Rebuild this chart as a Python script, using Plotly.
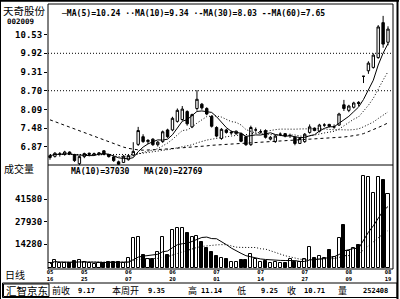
import plotly.graph_objects as go
import pandas as pd

W, H = 400, 299

# ---------------- data ----------------
stock_name = "天奇股份"
stock_code = "002009"

open_ = [6.52, 6.56, 6.62, 6.62, 6.70, 6.62, 6.32, 6.55, 6.62, 6.64,
         6.63, 6.74, 6.62, 6.54, 6.38, 6.36, 6.45, 6.60, 6.95, 7.20,
         7.04, 7.12, 6.94, 7.04, 7.42, 7.42, 7.70, 7.76, 8.02, 7.52,
         8.12, 8.26, 8.12, 7.86, 7.50, 7.14, 7.42, 7.32, 7.30, 7.30,
         7.20, 6.94, 7.42, 7.36, 7.40, 7.12, 7.04, 7.28, 7.30, 7.24,
         7.18, 6.98, 7.04, 7.34, 7.48, 7.38, 7.58, 7.60, 7.52, 7.58,
         8.24, 8.06, 8.16, 8.32, 9.17, 9.35, 9.46, 9.78, 10.92, 10.28]
high = [6.62, 6.70, 6.70, 6.74, 6.72, 6.64, 6.58, 6.68, 6.68, 6.68,
        6.70, 6.76, 6.64, 6.56, 6.42, 6.60, 6.62, 7.02, 7.52, 7.28,
        7.12, 7.15, 7.06, 7.40, 7.46, 7.85, 8.12, 8.20, 8.06, 7.95,
        8.72, 8.30, 8.16, 7.90, 7.54, 7.48, 7.46, 7.40, 7.40, 7.34,
        7.22, 7.56, 7.50, 7.44, 7.44, 7.22, 7.26, 7.34, 7.32, 7.30,
        7.20, 7.18, 7.32, 7.60, 7.50, 7.62, 7.64, 7.62, 7.60, 7.98,
        8.40, 8.24, 8.34, 8.36, 9.17, 9.66, 9.92, 10.84, 11.14, 10.80]
low = [6.45, 6.52, 6.55, 6.58, 6.60, 6.38, 6.25, 6.50, 6.56, 6.58,
       6.58, 6.60, 6.52, 6.38, 6.26, 6.34, 6.42, 6.56, 6.90, 7.00,
       6.96, 6.90, 6.88, 7.00, 7.16, 7.38, 7.66, 7.72, 7.56, 7.48,
       8.05, 8.08, 7.90, 7.50, 7.18, 7.10, 7.30, 7.26, 7.26, 7.02,
       6.90, 6.90, 7.36, 7.30, 7.14, 7.08, 7.00, 7.22, 7.18, 7.16,
       6.92, 6.96, 7.00, 7.30, 7.38, 7.34, 7.52, 7.50, 7.46, 7.55,
       8.04, 8.00, 8.12, 8.20, 8.95, 9.25, 9.42, 9.74, 10.10, 10.18]
close = [6.58, 6.66, 6.64, 6.70, 6.64, 6.42, 6.55, 6.65, 6.66, 6.64,
         6.67, 6.62, 6.55, 6.42, 6.30, 6.56, 6.58, 6.72, 7.40, 7.04,
         7.08, 6.94, 7.02, 7.36, 7.20, 7.80, 8.06, 8.10, 7.62, 7.92,
         8.42, 8.14, 7.94, 7.54, 7.22, 7.44, 7.34, 7.34, 7.38, 7.05,
         6.94, 7.50, 7.42, 7.36, 7.18, 7.18, 7.22, 7.28, 7.22, 7.24,
         6.98, 7.14, 7.28, 7.52, 7.40, 7.58, 7.58, 7.54, 7.52, 7.94,
         8.12, 8.20, 8.30, 8.28, 9.17, 9.60, 9.86, 10.78, 10.22, 10.71]
volume = [2500, 4800, 2800, 3000, 2600, 3800, 4500, 3600, 2800, 2200,
          2600, 3000, 3200, 3600, 3400, 3000, 6000, 18200, 18500, 7900,
          5000, 5500, 9700, 18800, 7900, 23000, 24300, 24300, 21200, 18800,
          19000, 15800, 12000, 9700, 7000, 6000, 5500, 3500, 3500, 4500,
          4800, 8500, 5500, 3500, 4000, 3000, 3500, 2800, 3000, 5500,
          3200, 3500, 5000, 12700, 6000, 7000, 6000, 10900, 6500, 18200,
          26000, 10300, 12100, 14000, 55500, 55000, 45000, 55000, 53000, 44400]
# MA30 before 30 closes are available in the window
ma30_head = [6.62, 6.62, 6.62, 6.62, 6.62, 6.62, 6.61, 6.61, 6.61, 6.61,
             6.61, 6.61, 6.61, 6.60, 6.60, 6.60, 6.61, 6.62, 6.64, 6.66,
             6.68, 6.70, 6.72, 6.75, 6.77, 6.80, 6.84, 6.87, 6.90]
# MA60
ma60 = [7.75, 7.69, 7.63, 7.57, 7.51, 7.45, 7.39, 7.33, 7.27, 7.21,
        7.15, 7.09, 7.03, 6.97, 6.91, 6.86, 6.82, 6.79, 6.77, 6.76,
        6.76, 6.77, 6.78, 6.79, 6.80, 6.81, 6.82, 6.83, 6.84, 6.85,
        6.86, 6.88, 6.90, 6.92, 6.93, 6.94, 6.95, 6.96, 6.97, 6.98,
        6.99, 7.00, 7.01, 7.02, 7.03, 7.04, 7.05, 7.06, 7.06, 7.07,
        7.07, 7.08, 7.09, 7.10, 7.11, 7.12, 7.13, 7.14, 7.15, 7.17,
        7.19, 7.21, 7.23, 7.26, 7.30, 7.36, 7.43, 7.50, 7.57, 7.65]

price_ticks = [10.53, 9.92, 9.31, 8.70, 8.09, 7.48, 6.87]
grid_levels = [9.92, 8.70]
vol_ticks = [41580, 27930, 14280]
date_tick_idx = [0, 7, 16, 25, 34, 43, 52, 61, 69]
date_months = ["05", "05", "06", "06", "07", "07", "07", "08", "08"]
date_days = ["16", "25", "07", "20", "01", "14", "27", "09", "19"]
ma_labels = ["─MA(5)=10.24", "··MA(10)=9.34", "·-MA(30)=8.03", "--MA(60)=7.65"]
vol_ma_labels = ["MA(10)=37030", "MA(20)=22769"]
status_labels = ["前收", "本周开", "高", "低", "收", "量"]
status_values = ["9.17", "9.35", "11.14", "9.25", "10.71", "252408"]
software_name = "汇智京东"

# ---------------- derived ----------------
idx = list(range(len(close)))
cs = pd.Series(close)
ma5 = cs.rolling(5, min_periods=1).mean()
ma10 = cs.rolling(10, min_periods=1).mean()
ma30 = cs.rolling(30).mean()
ma30.iloc[:len(ma30_head)] = ma30_head
vs = pd.Series(volume)
vma10 = vs.rolling(10, min_periods=1).mean()
vma20 = vs.rolling(20, min_periods=1).mean()
up = [c >= o for o, c in zip(open_, close)]

NUM = "DejaVu Sans Mono"
CJK = "Noto Sans CJK SC"


def px(x):
    return x / W


def py(y):
    return 1 - y / H


X0, X1 = 48, 393
Y_TOP, Y_SEP, Y_BOT = 4, 165, 269

fig = go.Figure()

fig.add_trace(go.Candlestick(
    x=idx, open=open_, high=high, low=low, close=close,
    increasing=dict(line=dict(color="black", width=1), fillcolor="white"),
    decreasing=dict(line=dict(color="black", width=1), fillcolor="black"),
    whiskerwidth=0, hoverinfo="skip", xaxis="x", yaxis="y"))

for series, dash in [(ma5, "solid"), (ma10, "1px,2px"), (ma30, "1px,2px"), (ma60, "3px,3px")]:
    fig.add_trace(go.Scatter(x=idx, y=list(series), mode="lines",
                             line=dict(color="black", width=1, dash=dash),
                             hoverinfo="skip", xaxis="x", yaxis="y"))

fig.add_trace(go.Bar(x=idx, y=volume, width=0.62,
                     marker=dict(color=["white" if u else "black" for u in up],
                                 line=dict(color="black", width=1)),
                     hoverinfo="skip", xaxis="x2", yaxis="y2"))
fig.add_trace(go.Scatter(x=idx, y=list(vma10), mode="lines",
                         line=dict(color="black", width=1), hoverinfo="skip",
                         xaxis="x2", yaxis="y2"))
fig.add_trace(go.Scatter(x=idx, y=list(vma20), mode="lines",
                         line=dict(color="black", width=1, dash="1px,2px"),
                         hoverinfo="skip", xaxis="x2", yaxis="y2"))
# carrier for the day-row axis
fig.add_trace(go.Scatter(x=[idx[0]], y=[0], mode="markers", marker=dict(opacity=0),
                         hoverinfo="skip", xaxis="x3", yaxis="y2"))

xr = [-0.41, 70.02]
p_lo = 9.92 - (Y_SEP - 53.3) / 30.66
p_hi = 9.92 + (53.3 - Y_TOP) / 30.66
v_per_px = (41580 - 14280) / (244 - 199)
v_lo = -(Y_BOT - 267.6) * v_per_px
v_hi = (267.6 - Y_SEP) * v_per_px

tickfont = dict(family=NUM, size=9, color="black", weight="bold")
datefont = dict(family=NUM, size=5.5, color="black", weight="bold")
fig.update_layout(
    width=W, height=H, margin=dict(l=0, r=0, t=0, b=0),
    paper_bgcolor="white", plot_bgcolor="white", showlegend=False,
    bargap=0,
    xaxis=dict(domain=[px(X0), px(X1)], range=xr, anchor="y",
               showticklabels=False, showgrid=False, zeroline=False,
               rangeslider=dict(visible=False), fixedrange=True),
    xaxis2=dict(domain=[px(X0), px(X1)], range=xr, anchor="y2",
                tickvals=date_tick_idx, ticktext=date_months,
                tickfont=datefont, ticks="", ticklen=0, ticklabelstandoff=-2,
                showgrid=False, zeroline=False),
    xaxis3=dict(domain=[px(X0), px(X1)], range=xr, overlaying="x2",
                anchor="free", position=py(Y_BOT + 6.5),
                tickvals=date_tick_idx, ticktext=date_days,
                tickfont=datefont, ticks="", ticklabelstandoff=-1,
                showgrid=False, zeroline=False, showline=False),
    yaxis=dict(domain=[py(Y_SEP), py(Y_TOP)], range=[p_lo, p_hi],
               tickvals=price_ticks, ticktext=[f"{v:.2f}" for v in price_ticks],
               tickfont=tickfont, ticks="outside", ticklen=3, tickcolor="black",
               showgrid=False, zeroline=False),
    yaxis2=dict(domain=[py(Y_BOT), py(Y_SEP)], range=[v_lo, v_hi],
                tickvals=vol_ticks, ticktext=[str(v) for v in vol_ticks],
                tickfont=tickfont, ticks="outside", ticklen=3, tickcolor="black",
                showgrid=False, zeroline=False),
)

shapes = []
for g in grid_levels:
    shapes.append(dict(type="line", xref="paper", yref="y", x0=px(X0), x1=px(X1), y0=g, y1=g,
                       line=dict(color="black", width=1, dash="1px,2px")))
line = dict(color="black", width=1)
# plot frame and separator
shapes.append(dict(type="rect", xref="paper", yref="paper", x0=px(X0), x1=px(X1),
                   y0=py(Y_BOT), y1=py(Y_TOP), line=line))
shapes.append(dict(type="line", xref="paper", yref="paper", x0=px(X0), x1=px(X1),
                   y0=py(Y_SEP), y1=py(Y_SEP), line=line))
# outer frame
shapes.append(dict(type="line", xref="paper", yref="paper", x0=0, x1=px(399),
                   y0=py(0.8), y1=py(0.8), line=dict(color="black", width=2)))
shapes.append(dict(type="line", xref="paper", yref="paper", x0=px(0.5), x1=px(0.5),
                   y0=py(299), y1=py(0), line=line))
shapes.append(dict(type="line", xref="paper", yref="paper", x0=px(397.5), x1=px(397.5),
                   y0=py(299), y1=py(0), line=dict(color="black", width=2)))
# status bar
shapes.append(dict(type="rect", xref="paper", yref="paper", x0=px(2.5), x1=px(397),
                   y0=py(297.5), y1=py(283), line=line))
shapes.append(dict(type="rect", xref="paper", yref="paper", x0=px(3.5), x1=px(49),
                   y0=py(296.5), y1=py(284), line=line))
fig.update_layout(shapes=shapes)

ann = []


def text(x, y, s, size, fam=NUM, xanchor="left", bold=True):
    ann.append(dict(x=px(x), y=py(y), xref="paper", yref="paper", text=s, showarrow=False,
                    xanchor=xanchor, yanchor="middle", borderpad=0,
                    font=dict(family=fam, size=size, color="black",
                              weight="bold" if bold else "normal")))


text(2, 10.5, stock_name, 10.5, CJK, bold=False)
text(6, 21.5, stock_code, 7.5)
text(60, 13, " ".join(ma_labels), 8.1)
text(3, 168, "成交量", 10, CJK, bold=False)
text(70, 171, vol_ma_labels[0], 8.1)
text(143, 171, vol_ma_labels[1], 8.1)
text(4, 274.5, "日线", 10, CJK, bold=False)
text(5, 290.5, software_name, 10.5, CJK, bold=False)
label_x = [51, 111, 187, 236, 286, 337]
value_x = [77, 147, 200, 260, 303, 362]
for lx, lab, vx, val in zip(label_x, status_labels, value_x, status_values):
    text(lx, 290.5, lab, 9, CJK, bold=False)
    text(vx, 290.5, val, 7, NUM)
fig.update_layout(annotations=ann)

fig.write_html("out.html")
